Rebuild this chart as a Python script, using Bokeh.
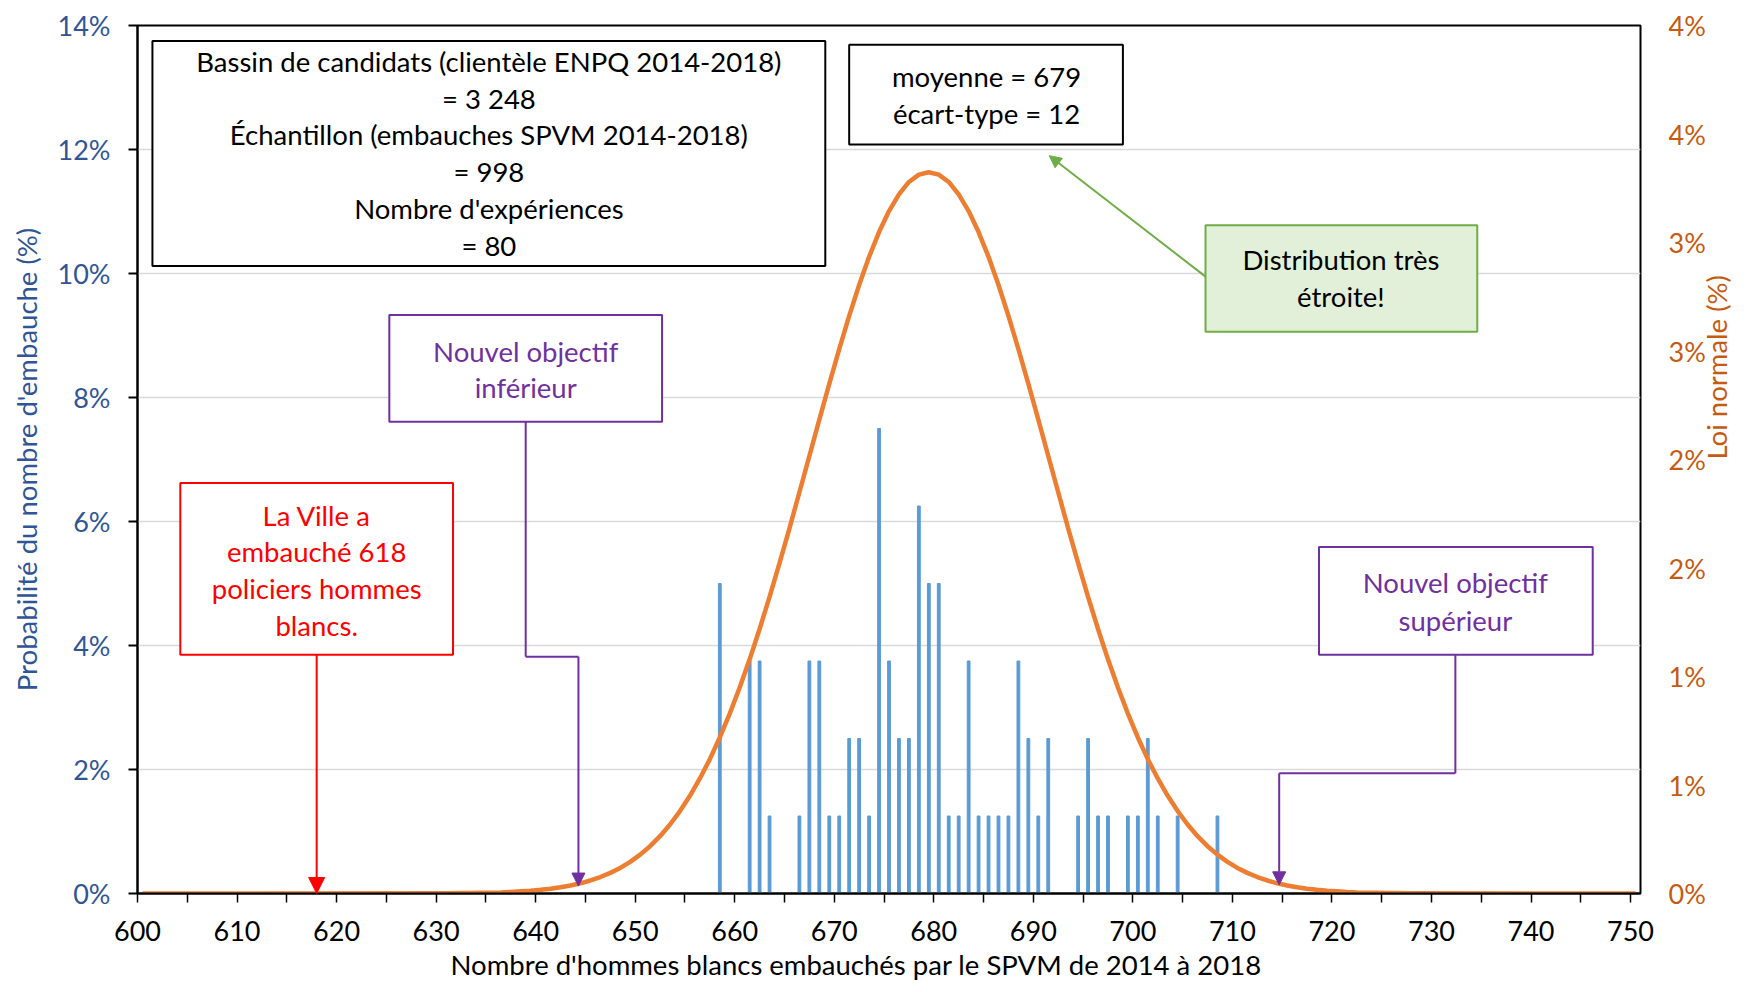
import math
from bokeh.plotting import figure
from bokeh.models import (Range1d, LinearAxis, FixedTicker, CustomJSTickFormatter,
                          BoxAnnotation, Label, Arrow, NormalHead, ColumnDataSource, Title)
from bokeh.transform import dodge
from bokeh.embed import file_html
from bokeh.resources import INLINE

# ---------------- data ----------------
bar_x = [658, 661, 662, 663, 666, 667, 668, 669, 670, 671, 672, 673, 674, 675,
         676, 677, 678, 679, 680, 681, 682, 683, 684, 685, 686, 687, 688, 689,
         690, 691, 694, 695, 696, 697, 699, 700, 701, 702, 704, 708]
bar_pct = [5.0, 3.75, 3.75, 1.25, 1.25, 3.75, 3.75, 1.25, 1.25, 2.5, 2.5, 1.25,
           7.5, 3.75, 2.5, 2.5, 6.25, 5.0, 5.0, 1.25, 1.25, 3.75, 1.25, 1.25,
           1.25, 1.25, 3.75, 2.5, 1.25, 2.5, 1.25, 2.5, 1.25, 1.25, 1.25, 1.25,
           2.5, 1.25, 1.25, 1.25]

curve_x = [600] + list(range(630, 729)) + [750]
curve_pct = [0.0,
             0.001, 0.001, 0.002, 0.002, 0.003, 0.004, 0.005, 0.007, 0.010, 0.013,
             0.017, 0.022, 0.029, 0.037, 0.047, 0.060, 0.076, 0.095, 0.118, 0.146,
             0.179, 0.218, 0.264, 0.318, 0.380, 0.450, 0.530, 0.619, 0.719, 0.829,
             0.949, 1.079, 1.219, 1.367, 1.522, 1.683, 1.849, 2.016, 2.184, 2.349,
             2.509, 2.662, 2.804, 2.934, 3.048, 3.145, 3.222, 3.279, 3.313,
             3.324,
             3.313, 3.279, 3.222, 3.145, 3.048, 2.934, 2.804, 2.662, 2.509, 2.349,
             2.184, 2.016, 1.849, 1.683, 1.522, 1.367, 1.219, 1.079, 0.949, 0.829,
             0.719, 0.619, 0.530, 0.450, 0.380, 0.318, 0.264, 0.218, 0.179, 0.146,
             0.118, 0.095, 0.076, 0.060, 0.047, 0.037, 0.029, 0.022, 0.017, 0.013,
             0.010, 0.007, 0.005, 0.004, 0.003, 0.002, 0.002, 0.001, 0.001,
             0.0]

x_ticks = [600, 610, 620, 630, 640, 650, 660, 670, 680, 690, 700, 710, 720, 730, 740, 750]
x_minor = [605, 615, 625, 635, 645, 655, 665, 675, 685, 695, 705, 715, 725, 735, 745]
left_ticks = [0, 2, 4, 6, 8, 10, 12, 14]
right_ticks = [0, 0.5, 1, 1.5, 2, 2.5, 3, 3.5, 4]

FONT = "Lato"
FS = "27px"
FSA = "27.5px"
BLUE_T = "#2F5597"
ORANGE_T = "#C55A11"
PURPLE = "#7030A0"
RED = "#FF0000"
GREEN = "#70AD47"

p = figure(frame_width=1503, frame_height=868,
           x_range=Range1d(600, 751), y_range=Range1d(0, 14),
           output_backend="svg", toolbar_location=None,
           min_border_left=137, min_border_right=100,
           min_border_top=25, min_border_bottom=97)
p.extra_y_ranges = {"right": Range1d(0, 4)}
p.outline_line_color = "black"
p.outline_line_width = 2
p.background_fill_color = "white"
p.border_fill_color = "white"

# grid
p.xgrid.visible = False
p.ygrid.ticker = FixedTicker(ticks=left_ticks)
p.ygrid.grid_line_color = "#D9D9D9"
p.ygrid.grid_line_width = 1.5

# x axis
xa = p.xaxis[0]
xa.ticker = FixedTicker(ticks=x_ticks, minor_ticks=x_minor)
xa.formatter = CustomJSTickFormatter(code="return tick.toString();")
xa.axis_line_color = "black"
xa.axis_line_width = 2
xa.major_tick_out = 9
xa.major_tick_in = 0
xa.minor_tick_out = 9
xa.minor_tick_in = 0
xa.major_tick_line_width = 1.5
xa.minor_tick_line_width = 1.5
xa.major_tick_line_color = "black"
xa.minor_tick_line_color = "black"
xa.major_label_text_font = FONT
xa.major_label_text_font_size = FS
xa.major_label_text_color = "black"
xa.major_label_standoff = 18

# x axis title, placed slightly left of centre as in the reference
xt = Title(text="Nombre d'hommes blancs embauchés par le SPVM de 2014 à 2018",
           align="left", offset=313, standoff=5,
           text_font=FONT, text_font_size=FSA, text_font_style="normal",
           text_color="black")
p.add_layout(xt, "below")

# left axis
ya = p.yaxis[0]
ya.ticker = FixedTicker(ticks=left_ticks)
ya.formatter = CustomJSTickFormatter(code="return tick + '%';")
ya.axis_line_color = "black"
ya.axis_line_width = 2
ya.major_tick_out = 9
ya.major_tick_in = 0
ya.major_tick_line_width = 2
ya.major_tick_line_color = "black"
ya.minor_tick_line_color = None
ya.major_label_text_font = FONT
ya.major_label_text_font_size = FS
ya.major_label_text_color = BLUE_T
ya.major_label_standoff = 18
ya.axis_label = "Probabilité du nombre d'embauche (%)"
ya.axis_label_text_font = FONT
ya.axis_label_text_font_size = FSA
ya.axis_label_text_font_style = "normal"
ya.axis_label_text_color = BLUE_T
ya.axis_label_standoff = 12

# right axis
ra = LinearAxis(y_range_name="right",
                ticker=FixedTicker(ticks=right_ticks),
                formatter=CustomJSTickFormatter(code="return Math.round(tick) + '%';"))
ra.axis_line_color = None
ra.major_tick_line_color = None
ra.minor_tick_line_color = None
ra.major_tick_out = 0
ra.major_tick_in = 0
ra.major_label_text_font = FONT
ra.major_label_text_font_size = FS
ra.major_label_text_color = ORANGE_T
ra.major_label_standoff = 28
ra.axis_label = "Loi normale (%)"
ra.axis_label_orientation = math.pi / 2
ra.axis_label_text_align = "center"
ra.axis_label_text_baseline = "middle"
ra.axis_label_text_font = FONT
ra.axis_label_text_font_size = FSA
ra.axis_label_text_font_style = "normal"
ra.axis_label_text_color = ORANGE_T
ra.axis_label_standoff = 8
p.add_layout(ra, "right")

# data marks (drawn half a unit right of the tick, as in the reference)
bars = ColumnDataSource(dict(x=bar_x, top=bar_pct))
curve = ColumnDataSource(dict(x=curve_x, y=curve_pct))
p.vbar(x=dodge("x", 0.5), top="top", bottom=0, width=0.28, color="#5B9BD5", source=bars)
p.line(x=dodge("x", 0.5), y="y", y_range_name="right", line_color="#ED7D31",
       line_width=4.5, source=curve)

# ---------------- annotations ----------------
def box(l, r, b, t, line, fill="white"):
    p.add_layout(BoxAnnotation(left=l, right=r, bottom=b, top=t, fill_color=fill,
                               fill_alpha=1, line_color=line, line_width=2, line_alpha=1))

def lab(x, y, txt, color):
    p.add_layout(Label(x=x, y=y, text=txt, text_align="center", text_baseline="middle",
                       text_font=FONT, text_font_size=FSA, text_color=color))

def seg(x0, y0, x1, y1, color, head=True, size=14):
    end = NormalHead(size=size, fill_color=color, line_color=color, line_width=1) if head else None
    p.add_layout(Arrow(end=end, x_start=x0, y_start=y0, x_end=x1, y_end=y1,
                       line_color=color, line_width=2))

# connectors / arrows
seg(618.0, 3.85, 618.0, 0.0, RED, size=16)
seg(639.0, 7.61, 639.0, 3.82, PURPLE, head=False)
seg(639.0, 3.82, 644.3, 3.82, PURPLE, head=False)
seg(644.3, 3.82, 644.3, 0.12, PURPLE, size=13)
seg(732.4, 3.85, 732.4, 1.94, PURPLE, head=False)
seg(732.4, 1.94, 714.7, 1.94, PURPLE, head=False)
seg(714.7, 1.94, 714.7, 0.14, PURPLE, size=13)
seg(707.3, 9.95, 691.6, 11.9, GREEN, size=12)

# info box 1
box(601.5, 669.1, 10.12, 13.75, "black")
for yy, t in zip([13.42, 12.83, 12.24, 11.64, 11.05, 10.45],
                 ["Bassin de candidats (clientèle ENPQ 2014-2018)", "= 3 248",
                  "Échantillon (embauches SPVM 2014-2018)", "= 998",
                  "Nombre d'expériences", "= 80"]):
    lab(635.3, yy, t, "black")

# info box 2
box(671.5, 699.0, 12.08, 13.69, "black")
lab(685.3, 13.17, "moyenne = 679", "black")
lab(685.3, 12.58, "écart-type = 12", "black")

# green box
box(707.3, 734.6, 9.06, 10.78, GREEN, fill="#E2F0D9")
lab(720.9, 10.22, "Distribution très", "black")
lab(720.9, 9.63, "étroite!", "black")

# purple box 1
box(625.3, 652.7, 7.61, 9.33, PURPLE)
lab(639.0, 8.75, "Nouvel objectif", PURPLE)
lab(639.0, 8.16, "inférieur", PURPLE)

# red box
box(604.3, 631.7, 3.85, 6.62, RED)
for yy, t in zip([6.10, 5.52, 4.92, 4.33],
                 ["La Ville a", "embauché 618", "policiers hommes", "blancs."]):
    lab(618.0, yy, t, RED)

# purple box 2
box(718.7, 746.2, 3.85, 5.59, PURPLE)
lab(732.4, 5.01, "Nouvel objectif", PURPLE)
lab(732.4, 4.41, "supérieur", PURPLE)

open("out.html", "w").write(file_html(p, INLINE))
